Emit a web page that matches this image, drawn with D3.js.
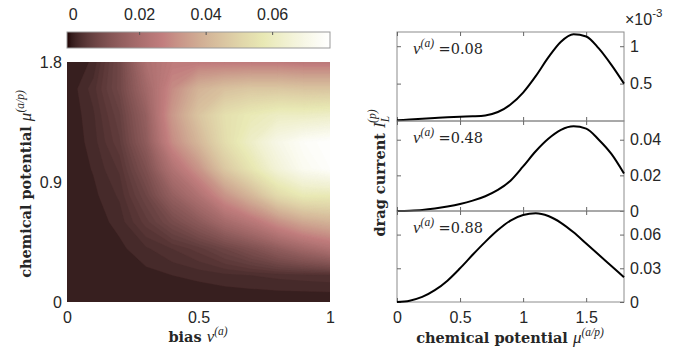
<!DOCTYPE html>
<html>
<head>
<meta charset="utf-8">
<script src="https://cdn.jsdelivr.net/npm/d3@7"></script>
<style>
  body { margin: 0; background: #fff; }
  svg { display: block; }
  .tick text { font-family: "Liberation Sans", Arial, sans-serif; font-size: 16px; fill: #262626; }
</style>
</head>
<body>
<svg id="chart" width="693" height="354"></svg>
<script>
// heatmap grid: bias v (columns) x chemical potential mu (rows)
const vGrid = [0, 0.1, 0.2, 0.3, 0.4, 0.5, 0.6, 0.7, 0.8, 0.9, 1.0];
const muGrid = [0, 0.2, 0.4, 0.6, 0.8, 1.0, 1.2, 1.4, 1.6, 1.8];
const heatRows = [
  [0, 0, 0, 0, 0, 0, 0, 0, 0, 0, 0],
  [0, .0001, .0002, .0006, .0010, .0013, .0017, .0020, .0023, .0025, .0027],
  [0, .0002, .0007, .0018, .0030, .0045, .0070, .0100, .0140, .0180, .0220],
  [0, .0004, .0014, .0045, .0085, .0130, .0190, .0240, .0310, .0370, .0400],
  [0, .0007, .0022, .0070, .0150, .0220, .0320, .0410, .0520, .0580, .0580],
  [0, .0011, .0032, .0100, .0220, .0320, .0460, .0560, .0660, .0730, .0760],
  [0, .0015, .0048, .0135, .0300, .0410, .0530, .0620, .0700, .0750, .0770],
  [0, .0018, .0058, .0150, .0330, .0450, .0540, .0580, .0610, .0610, .0620],
  [0, .0025, .0075, .0180, .0300, .0400, .0440, .0460, .0460, .0450, .0450],
  [0, .0012, .0075, .0210, .0260, .0260, .0260, .0260, .0260, .0250, .0250]
];
const cbarTicks = [0, 0.02, 0.04, 0.06];

// slices of the drag current
const muPts = [0, 0.1, 0.2, 0.3, 0.4, 0.5, 0.6, 0.7, 0.8, 0.9, 1.0, 1.1, 1.2, 1.3, 1.4, 1.5, 1.6, 1.7, 1.8];
const drag008 = [0.01, 0.02, 0.03, 0.04, 0.05, 0.058, 0.063, 0.075, 0.12, 0.22, 0.38, 0.6, 0.85, 1.06, 1.16, 1.13, 0.97, 0.75, 0.5].map(d => d * 1e-3);
const drag048 = [0, 0.0002, 0.0006, 0.0014, 0.0025, 0.0039, 0.0058, 0.0083, 0.0118, 0.017, 0.025, 0.0335, 0.0405, 0.0455, 0.0475, 0.0462, 0.040, 0.032, 0.021];
const drag088 = [0, 0.0012, 0.0045, 0.0105, 0.019, 0.030, 0.042, 0.0535, 0.064, 0.0725, 0.0775, 0.079, 0.0765, 0.0705, 0.062, 0.052, 0.042, 0.032, 0.022];
const panelLabels = ["0.08", "0.48", "0.88"];
const xTicksRight = [0, 0.5, 1, 1.5];

const svg = d3.select("#chart");
const serif = '"DejaVu Serif", serif';
const mathFont = '"Liberation Serif", "Times New Roman", serif';
const sans = '"Liberation Sans", Arial, sans-serif';

// MATLAB style pink colormap
function pink(t) {
  t = Math.max(0, Math.min(1, t));
  const i = t * 63;
  const r = Math.min(1, (i + 1) / 24);
  const g = Math.max(0, Math.min(1, (i + 1 - 24) / 24));
  const b = Math.max(0, Math.min(1, (i + 1 - 48) / 16));
  return d3.rgb(255 * Math.sqrt((2 * t + r) / 3), 255 * Math.sqrt((2 * t + g) / 3), 255 * Math.sqrt((2 * t + b) / 3)).formatHex();
}
const cmin = -0.0017, cmax = 0.0774;
const color = v => pink((v - cmin) / (cmax - cmin));

// math-ish label: bold words + italic symbol with superscript
function mathLabel(sel, words, sym, sup) {
  sel.attr("fill", "#262626");
  sel.append("tspan").attr("font-family", serif).attr("font-weight", "bold").attr("font-size", 14.5).text(words);
  sel.append("tspan").attr("font-family", mathFont).attr("font-style", "italic").attr("font-size", 17).text(sym);
  sel.append("tspan").attr("font-family", mathFont).attr("font-style", "italic").attr("font-size", 11.5).attr("dy", -7).text(sup);
}

// ---------- heatmap ----------
const hm = { left: 67, right: 330, top: 62, bottom: 302 };
const xH = d3.scaleLinear().domain([0, 1]).range([hm.left, hm.right]);
const yH = d3.scaleLinear().domain([0, 1.8]).range([hm.bottom, hm.top]);

svg.append("clipPath").attr("id", "hmclip")
  .append("rect").attr("x", hm.left).attr("y", hm.top)
  .attr("width", hm.right - hm.left).attr("height", hm.bottom - hm.top);

const nx = vGrid.length, ny = muGrid.length;
const dv = vGrid[1] - vGrid[0], dmu = muGrid[1] - muGrid[0];
const values = heatRows.flat();
const step = 0.001;
const levels = d3.range(step, 0.08, step);
const contours = d3.contours().size([nx, ny]).thresholds(levels)(values);
const proj = d3.geoTransform({
  point(gx, gy) { this.stream.point(xH(vGrid[0] + (gx - 0.5) * dv), yH(muGrid[0] + (gy - 0.5) * dmu)); }
});
const gH = svg.append("g").attr("clip-path", "url(#hmclip)");
gH.append("rect").attr("x", hm.left).attr("y", hm.top)
  .attr("width", hm.right - hm.left).attr("height", hm.bottom - hm.top)
  .attr("fill", color(0));
gH.selectAll("path").data(contours).join("path")
  .attr("d", d3.geoPath(proj))
  .attr("fill", d => color(d.value + step / 2))
  .attr("stroke", d => color(d.value + step / 2))
  .attr("stroke-width", 0.3);

svg.append("g").attr("transform", `translate(0,${hm.bottom})`)
  .call(d3.axisBottom(xH).tickValues([0, 0.5, 1]).tickFormat(d3.format("")).tickSize(0).tickPadding(10))
  .call(g => g.select(".domain").remove());
svg.append("g").attr("transform", `translate(${hm.left},0)`)
  .call(d3.axisLeft(yH).tickValues([0, 0.9, 1.8]).tickFormat(d3.format("")).tickSize(0).tickPadding(5))
  .call(g => g.select(".domain").remove());

mathLabel(svg.append("text").attr("x", 198).attr("y", 342).attr("text-anchor", "middle"), "bias ", "v", "(a)");
mathLabel(svg.append("text").attr("transform", "translate(31,184) rotate(-90)").attr("text-anchor", "middle"),
  "chemical potential ", "μ", "(a/p)");

// ---------- colorbar ----------
const cb = { left: 67, right: 330, top: 32, bottom: 48 };
const xC = d3.scaleLinear().domain([cmin, cmax]).range([cb.left, cb.right]);
const grad = svg.append("defs").append("linearGradient").attr("id", "cbgrad");
grad.selectAll("stop").data(d3.range(0, 1.0001, 1 / 63)).join("stop")
  .attr("offset", d => d).attr("stop-color", d => pink(d));
svg.append("rect").attr("x", cb.left).attr("y", cb.top)
  .attr("width", cb.right - cb.left).attr("height", cb.bottom - cb.top)
  .attr("fill", "url(#cbgrad)").attr("stroke", "#9a9a9a").attr("stroke-width", 1);
svg.append("g").attr("transform", `translate(0,${cb.top})`)
  .call(d3.axisTop(xC).tickValues(cbarTicks).tickFormat(d3.format("")).tickSize(-3).tickPadding(12))
  .call(g => g.select(".domain").remove())
  .call(g => g.selectAll(".tick line").attr("stroke", "#555").filter(d => d === 0).remove());

// ---------- slice panels ----------
const rp = { left: 397, right: 624 };
const xR = d3.scaleLinear().domain([0, 1.8]).range([rp.left, rp.right]);
const panels = [
  { top: 32, bottom: 121, max: 1.19e-3, ticks: [0.5e-3, 1e-3], fmt: d => d3.format("")(+(d * 1e3).toFixed(2)), data: drag008 },
  { top: 121, bottom: 211, max: 0.0505, ticks: [0, 0.02, 0.04], fmt: d3.format(""), data: drag048 },
  { top: 211, bottom: 302, max: 0.081, ticks: [0, 0.03, 0.06], fmt: d3.format(""), data: drag088 }
];

panels.forEach((p, i) => {
  const y = d3.scaleLinear().domain([0, p.max]).range([p.bottom, p.top]);
  const g = svg.append("g");
  g.append("rect").attr("x", rp.left).attr("y", p.top)
    .attr("width", rp.right - rp.left).attr("height", p.bottom - p.top)
    .attr("fill", "none").attr("stroke", "#8c8c8c").attr("stroke-width", 1);
  g.append("g").attr("transform", `translate(0,${p.bottom})`)
    .call(d3.axisBottom(xR).tickValues(xTicksRight).tickSize(-4).tickPadding(10)
      .tickFormat(i === 2 ? d3.format("") : () => ""));
  g.append("g").attr("transform", `translate(0,${p.top})`)
    .call(d3.axisTop(xR).tickValues(xTicksRight).tickSize(-4).tickFormat(() => ""));
  g.append("g").attr("transform", `translate(${rp.right},0)`)
    .call(d3.axisRight(y).tickValues(p.ticks).tickSize(-4).tickPadding(6).tickFormat(p.fmt));
  g.append("g").attr("transform", `translate(${rp.left},0)`)
    .call(d3.axisLeft(y).tickValues(p.ticks).tickSize(-4).tickFormat(() => ""));
  g.selectAll(".domain").remove();
  g.selectAll(".tick line").attr("stroke", "#666");

  g.append("path").datum(p.data)
    .attr("fill", "none").attr("stroke", "#000").attr("stroke-width", 2)
    .attr("d", d3.line().x((d, k) => xR(muPts[k])).y(d => y(d)).curve(d3.curveMonotoneX));

  const t = g.append("text").attr("x", 413).attr("y", p.top + 22).attr("fill", "#262626");
  t.append("tspan").attr("font-family", mathFont).attr("font-style", "italic").attr("font-size", 17).text("v");
  t.append("tspan").attr("font-family", mathFont).attr("font-style", "italic").attr("font-size", 11.5).attr("dy", -7).text("(a)");
  t.append("tspan").attr("font-family", serif).attr("font-size", 14.5).attr("dy", 7).text(" =" + panelLabels[i]);
});

// exponent label
const ex = svg.append("text").attr("x", 625).attr("y", 25)
  .attr("font-family", sans).attr("font-size", 16).attr("fill", "#262626");
ex.append("tspan").text("×10");
ex.append("tspan").attr("font-size", 11.5).attr("dy", -8).text("-3");

// shared labels
mathLabel(svg.append("text").attr("x", 510).attr("y", 343).attr("text-anchor", "middle"),
  "chemical potential ", "μ", "(a/p)");

const dl = svg.append("text").attr("transform", "translate(385,173) rotate(-90)").attr("text-anchor", "middle")
  .attr("fill", "#262626");
dl.append("tspan").attr("font-family", serif).attr("font-weight", "bold").attr("font-size", 14.5).text("drag current ");
dl.append("tspan").attr("font-family", mathFont).attr("font-style", "italic").attr("font-size", 17).text("I");
dl.append("tspan").attr("font-family", mathFont).attr("font-style", "italic").attr("font-size", 11.5).attr("dy", 4).text("L");
dl.append("tspan").attr("font-family", mathFont).attr("font-style", "italic").attr("font-size", 11.5).attr("dx", -7).attr("dy", -13).text("(p)");
</script>
</body>
</html>
